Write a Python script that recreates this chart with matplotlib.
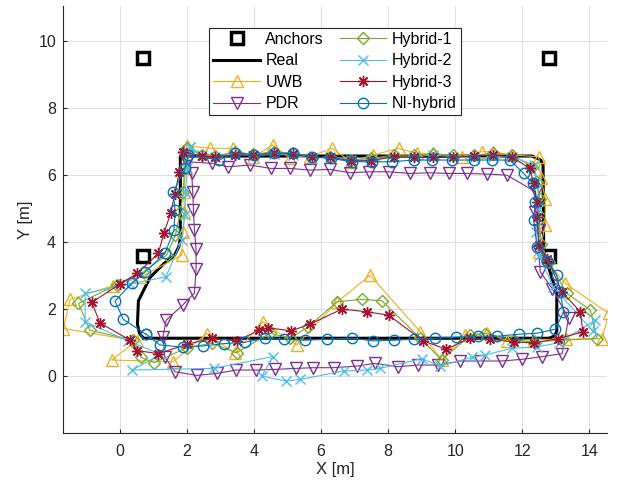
import matplotlib.pyplot as plt

plt.rcParams['font.family'] = ['Liberation Sans', 'DejaVu Sans']

# anchor positions [m]
anchor_x = [0.7, 12.8, 0.7, 12.8]
anchor_y = [9.5, 9.5, 3.6, 3.6]

# ground truth path
real_x = [0.7, 12.8, 12.97, 13.03, 13.03, 12.64, 12.62, 12.55, 12.3, 1.8, 1.8, 1.75,
          1.62, 1.3, 0.9, 0.55, 0.52, 0.58, 0.7]
real_y = [1.13, 1.13, 1.2, 1.35, 2.47, 3.71, 6.3, 6.45, 6.57, 6.57, 4.1, 3.85,
          3.6, 3.35, 2.95, 2.25, 1.55, 1.28, 1.13]

# UWB only
uwb_x = [1.99, 1.95, 1.9, 1.92, 1.88, 1.84, 0.6, -0.2, -1.49, -1.69, 0.5, -0.25, 1.59,
         2.59, 3.43, 4.26, 5.27, 6.47, 7.46, 8.96, 9.6, 10.3, 10.95, 11.54, 12.34, 13.3,
         14.38, 14.58, 13.28, 12.5, 12.69, 12.69, 12.55, 12.49, 11.7, 11.14, 10.8, 10.2,
         9.35, 8.86, 8.31, 7.56, 6.9, 6.32, 5.67, 5.07, 4.56, 3.98, 3.38, 2.69, 1.99]
uwb_y = [6.88, 6.2, 5.5, 4.9, 4.3, 3.61, 2.95, 2.7, 2.29, 1.42, 1.05, 0.48, 0.43,
         1.27, 0.68, 1.62, 0.93, 2.2, 3.01, 1.32, 0.48, 1.22, 1.29, 1.05, 1.09, 1.1,
         1.12, 1.87, 2.77, 3.7, 4.5, 5.3, 5.9, 6.55, 6.6, 6.7, 6.7, 6.55,
         6.65, 6.65, 6.8, 6.6, 6.4, 6.8, 6.55, 6.5, 6.9, 6.55, 6.8, 6.8, 6.88]

# PDR only
pdr_x = [2.0, 2.14, 2.17, 2.19, 2.22, 2.27, 2.27, 2.22, 1.87, 1.38, 1.28, 1.34, 1.64,
         2.29, 2.89, 3.46, 4.06, 4.63, 5.25, 5.77, 6.39, 7.07, 7.61, 8.28, 8.9, 9.5,
         10.15, 10.75, 11.39, 11.99, 12.59, 13.19, 13.38, 12.9, 12.54, 12.49, 12.49,
         12.39, 12.4, 11.54, 10.95, 10.35, 9.8, 9.25, 8.64, 8.01, 7.44, 6.87, 6.27,
         5.67, 5.07, 4.5, 3.88, 3.23, 2.74, 2.0]
pdr_y = [6.4, 6.05, 5.5, 4.96, 4.36, 3.79, 3.19, 2.48, 2.12, 1.67, 1.17, 0.56, 0.13,
         0.02, 0.08, 0.18, 0.18, 0.2, 0.23, 0.25, 0.25, 0.3, 0.38, 0.28, 0.33, 0.33,
         0.45, 0.45, 0.45, 0.5, 0.58, 0.67, 1.72, 2.6, 3.11, 3.7, 4.36,
         4.9, 5.5, 6.0, 6.03, 6.05, 6.05, 6.07, 6.05, 6.1, 6.1, 6.07, 6.17,
         6.15, 6.2, 6.2, 6.3, 6.25, 6.35, 6.4]

# Hybrid-1
h1_x = [1.99, 1.92, 1.89, 1.8, 1.65, 1.39, 0.7, -0.1, -1.24, -0.9, 0.4, 0.63, 1.02,
        2.0, 2.74, 3.48, 4.48, 5.07, 5.62, 6.47, 7.21, 7.81, 8.96, 9.6, 10.45, 10.9,
        11.74, 12.34, 13.18, 14.23, 14.03, 13.33, 12.79, 12.55, 12.5, 12.52, 12.45,
        12.3, 11.69, 11.14, 10.55, 9.93, 9.35, 8.76, 8.18, 7.48, 6.89, 6.27, 5.72,
        5.15, 4.58, 3.98, 3.43, 2.84, 2.44, 1.99]
h1_y = [6.8, 6.2, 5.5, 4.9, 4.2, 3.61, 3.11, 2.72, 2.17, 1.37, 1.07, 0.56, 0.4,
        0.85, 0.98, 0.7, 1.28, 1.13, 1.47, 2.22, 2.29, 2.25, 1.13, 0.48, 1.22, 1.27,
        1.07, 1.02, 1.07, 1.12, 1.97, 2.47, 3.41, 3.95, 4.7, 5.3, 5.8,
        6.25, 6.6, 6.65, 6.6, 6.6, 6.62, 6.6, 6.6, 6.5, 6.45, 6.55, 6.5,
        6.65, 6.7, 6.62, 6.68, 6.58, 6.6, 6.8]

# Hybrid-2
h2_x = [2.09, 2.0, 1.95, 1.94, 1.84, 1.37, 0.3, -1.04, -1.04, 0.25, 1.2, 0.37, 2.79,
        4.56, 4.23, 4.96, 5.37, 6.67, 7.36, 7.76, 9.0, 9.55, 10.5, 10.9, 11.69, 12.44,
        13.1, 14.18, 14.1, 12.93, 12.5, 12.4, 12.5, 12.45, 12.35, 11.7, 11.14, 10.55,
        9.93, 9.35, 8.76, 8.18, 7.48, 6.89, 6.27, 5.72, 5.15, 4.58, 3.98, 3.43, 2.84,
        2.44, 2.09]
h2_y = [6.85, 6.2, 5.5, 4.81, 4.06, 2.96, 2.75, 2.47, 1.62, 1.05, 0.65, 0.18, 0.23,
        0.58, 0.0, -0.15, -0.1, 0.15, 0.18, 0.23, 0.52, 0.3, 0.56, 0.63, 0.83, 0.87,
        1.0, 1.67, 1.35, 2.66, 3.6, 4.3, 5.0, 5.8, 6.3, 6.55, 6.55, 6.5,
        6.55, 6.6, 6.55, 6.55, 6.45, 6.45, 6.55, 6.5, 6.6, 6.62, 6.58, 6.62, 6.55,
        6.6, 6.85]

# Hybrid-3
h3_x = [1.89, 1.77, 1.64, 1.51, 1.31, 1.14, 0.52, 0.0, -0.84, -0.6, 0.3, 0.52, 1.14,
        2.0, 2.74, 3.48, 4.16, 4.43, 5.1, 5.67, 6.62, 7.36, 8.01, 9.05, 9.73, 10.45,
        11.04, 11.74, 12.34, 13.08, 13.81, 13.73, 13.18, 12.74, 12.49, 12.44, 12.44,
        12.34, 12.22, 11.69, 11.14, 10.55, 9.93, 9.35, 8.76, 8.18, 7.48, 6.89, 6.27,
        5.72, 5.15, 4.58, 3.98, 3.43, 2.84, 2.44, 1.89]
h3_y = [6.7, 6.1, 5.45, 4.86, 4.26, 3.66, 3.07, 2.75, 2.2, 1.59, 1.07, 0.76, 0.67,
        0.95, 1.13, 1.05, 1.37, 1.44, 1.35, 1.55, 2.0, 1.92, 1.82, 1.05, 0.8, 1.14,
        1.1, 1.02, 0.99, 1.12, 1.32, 1.92, 2.52, 3.51, 3.91, 4.76, 5.2,
        5.75, 6.2, 6.55, 6.6, 6.57, 6.53, 6.53, 6.53, 6.55, 6.43, 6.43, 6.53,
        6.53, 6.63, 6.65, 6.6, 6.6, 6.55, 6.57, 6.7]

# NI-hybrid
ni_x = [0.78, 1.19, 1.89, 2.49, 3.11, 3.73, 4.33, 4.9, 5.52, 6.17, 6.93, 7.56, 8.17,
        8.78, 9.4, 10.03, 10.68, 11.25, 11.9, 12.44, 12.99, 13.23, 13.13, 13.03, 12.75,
        12.44, 12.34, 12.39, 12.32, 12.04, 11.64, 11.1, 10.55, 9.9, 9.3, 8.76, 8.11,
        7.51, 6.92, 6.3, 5.72, 5.15, 4.6, 4.0, 3.43, 2.96, 2.04, 1.94, 1.59, 1.64,
        1.61, 1.34, 0.75, 0.35, -0.15, 0.1, 0.78]
ni_y = [1.25, 0.93, 0.86, 0.9, 0.97, 1.01, 1.13, 1.1, 1.07, 1.1, 1.13, 1.05, 1.07,
        1.1, 1.13, 1.16, 1.19, 1.19, 1.25, 1.28, 1.4, 1.92, 2.52, 3.01, 3.45,
        3.86, 4.66, 5.2, 5.75, 6.05, 6.45, 6.45, 6.45, 6.45, 6.45, 6.45, 6.4,
        6.4, 6.4, 6.5, 6.55, 6.65, 6.66, 6.6, 6.67, 6.45, 6.6, 6.2, 5.5, 4.96,
        4.36, 3.66, 3.11, 2.77, 2.24, 1.69, 1.25]

fig = plt.figure(figsize=(6.22, 4.91), dpi=100)
ax = fig.add_axes([0.1013, 0.1181, 0.8747, 0.8697])

ax.plot(anchor_x, anchor_y, ls='none', marker='s', ms=9, mfc='none', mec='k', mew=2.5,
        label='Anchors')
ax.plot(real_x, real_y, color='k', lw=2.2, label='Real')
ax.plot(uwb_x, uwb_y, color='#EDB120', lw=0.8, marker='^', ms=8, mfc='none',
        label='UWB')
ax.plot(pdr_x, pdr_y, color='#7E2F8E', lw=0.8, marker='v', ms=8, mfc='none',
        label='PDR')
ax.plot(h1_x, h1_y, color='#77AC30', lw=0.8, marker='D', ms=6.5, mfc='none',
        label='Hybrid-1')
ax.plot(h2_x, h2_y, color='#4DBEEE', lw=0.8, marker='x', ms=6.5, label='Hybrid-2')
ax.plot(h3_x, h3_y, color='#A2142F', lw=0.8, marker=(8, 2, 0), ms=8, label='Hybrid-3')
ax.plot(ni_x, ni_y, color='#0072BD', lw=0.8, marker='o', ms=7.5, mfc='none',
        label='NI-hybrid')

ax.set_xlim(-1.7, 14.53)
ax.set_ylim(-1.7, 11.05)
ax.set_xticks(range(0, 15, 2))
ax.set_yticks(range(0, 11, 2))
ax.grid(True, color='#e0e0e0', lw=0.7)
ax.set_axisbelow(True)
for side in ['top', 'right']:
    ax.spines[side].set_visible(False)
for side in ['left', 'bottom']:
    ax.spines[side].set_color('#262626')
    ax.spines[side].set_linewidth(0.8)
ax.tick_params(direction='in', length=3, colors='#262626', labelsize=11.5)
ax.tick_params(axis='x', pad=8)
ax.tick_params(axis='y', pad=5)
ax.set_xlabel('X [m]', fontsize=12, color='#262626', labelpad=2)
ax.set_ylabel('Y [m]', fontsize=12, color='#262626')

leg = ax.legend(ncol=2, loc='upper center', bbox_to_anchor=(0.5, 0.967), fontsize=11.5,
                fancybox=False, framealpha=1, edgecolor='#262626', handlelength=2.9,
                handletextpad=0.35, columnspacing=1.0, borderpad=0.25, labelspacing=0.4)
leg.get_frame().set_linewidth(0.8)

fig.savefig('out.png', dpi=100)
